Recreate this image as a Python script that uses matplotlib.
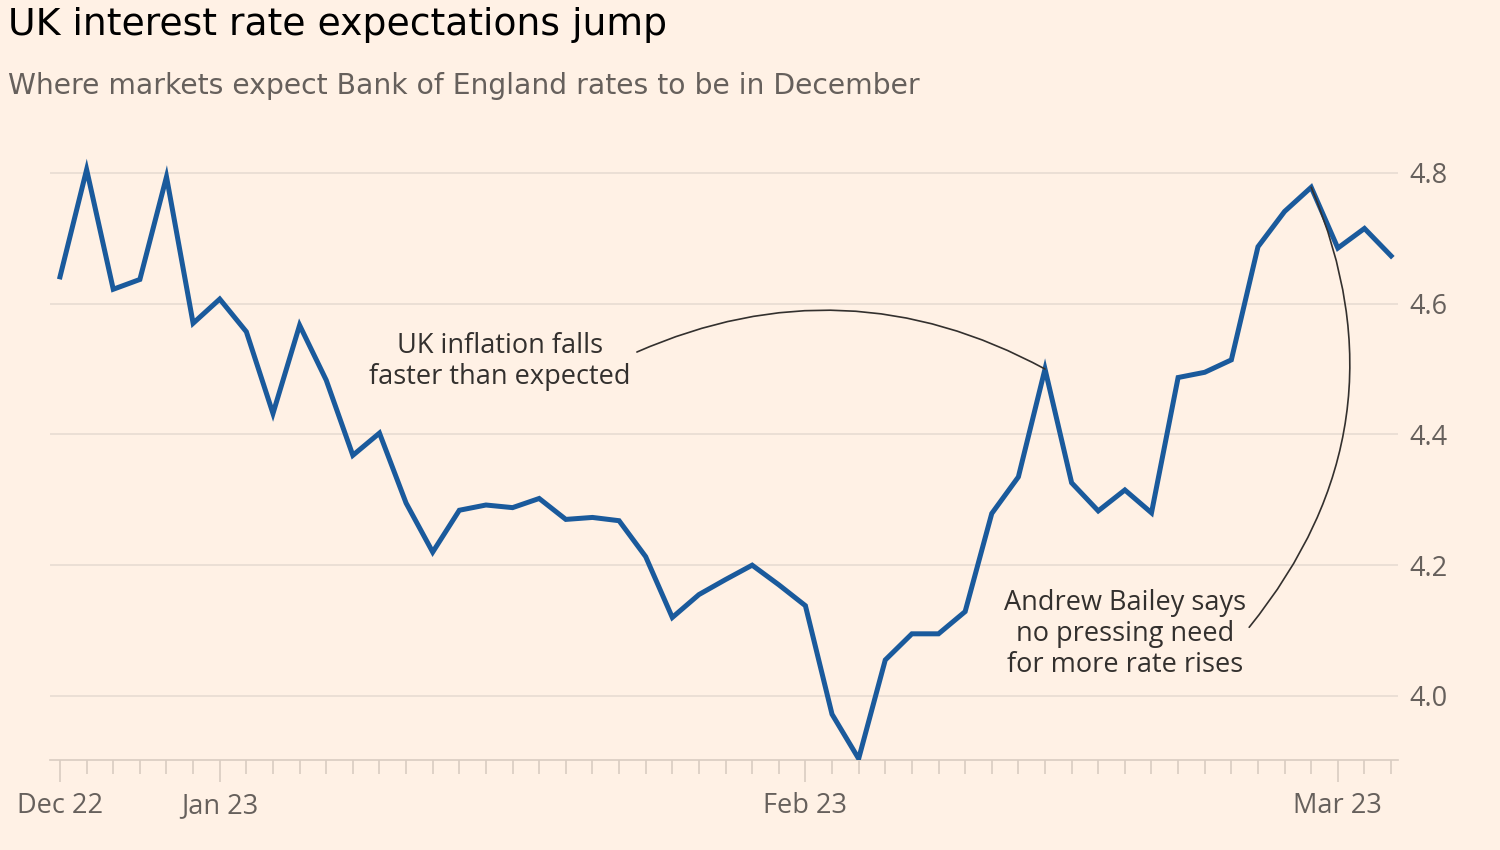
import matplotlib
matplotlib.use("Agg")
import matplotlib.pyplot as plt
from matplotlib import font_manager
import pandas as pd

# ---- data ----
dates = pd.bdate_range("2022-12-23", "2023-03-03")
rates = [4.641, 4.805, 4.622, 4.637, 4.794, 4.570, 4.607, 4.557, 4.432, 4.567,
         4.483, 4.368, 4.402, 4.295, 4.220, 4.284, 4.292, 4.288, 4.302, 4.270,
         4.273, 4.268, 4.213, 4.120, 4.155, 4.178, 4.200, 4.170, 4.138, 3.972,
         3.904, 4.055, 4.095, 4.095, 4.129, 4.279, 4.335, 4.500, 4.326, 4.283,
         4.315, 4.280, 4.487, 4.495, 4.514, 4.687, 4.741, 4.778, 4.685, 4.715,
         4.673]
month_labels = ["Dec 22", "Jan 23", "Feb 23", "Mar 23"]
month_starts = ["2022-12-23", "2023-01-02", "2023-02-01", "2023-03-01"]
y_ticks = [4.0, 4.2, 4.4, 4.6, 4.8]
title = "UK interest rate expectations jump"
subtitle = "Where markets expect Bank of England rates to be in December"
note1 = "UK inflation falls\nfaster than expected"
note2 = "Andrew Bailey says\nno pressing need\nfor more rate rises"

# ---- style ----
avail = {f.name for f in font_manager.fontManager.ttflist}
title_font = "DejaVu Sans"
body_font = "Open Sans" if "Open Sans" in avail else "DejaVu Sans"

BG = "#FFF1E5"
LINE = "#1A5A9C"
GRID = "#E8DCD2"
TICK = "#D9CCC2"
TXT = "#33302E"
GREY = "#66605C"

fig = plt.figure(figsize=(15, 8.5), dpi=100, facecolor=BG)
ax = fig.add_axes([50/1500, 1-760/850, (1398-50)/1500, (760-150)/850])
ax.set_facecolor(BG)

x = list(range(len(rates)))
ax.plot(x, rates, color=LINE, lw=3.6, solid_joinstyle="miter", zorder=3)

ax.set_xlim(-0.376, 50.26)
ax.set_ylim(3.902, 4.835)

# y axis on right
ax.yaxis.tick_right()
ax.set_yticks(y_ticks)
ax.set_yticklabels([f"{v:.1f}" for v in y_ticks], fontsize=19.5, color=GREY, family=body_font)
ax.tick_params(axis="y", length=0, pad=8)
ax.grid(axis="y", color=GRID, lw=1.2)
ax.set_axisbelow(True)

# x axis ticks
pos = {d.strftime("%Y-%m-%d"): i for i, d in enumerate(dates)}
major = [pos[d] for d in month_starts]
ax.set_xticks(major)
ax.set_xticklabels(month_labels, fontsize=19.5, color=GREY, family=body_font)
ax.set_xticks(x, minor=True)
ax.tick_params(axis="x", which="major", length=16, width=1.2, color=TICK, pad=7)
ax.tick_params(axis="x", which="minor", length=10, width=1.2, color=TICK)

for s in ["top", "left", "right"]:
    ax.spines[s].set_visible(False)
ax.spines["bottom"].set_color(TICK)
ax.spines["bottom"].set_linewidth(1.2)

# annotations
ax.text(16.53, 4.512, note1, ha="center", va="center", fontsize=19.5,
        color=TXT, family=body_font, linespacing=1.15, multialignment="center")
ax.annotate("", xy=(37, rates[37]), xytext=(21.67, 4.526),
            arrowprops=dict(arrowstyle="-", color=TXT, lw=1.2,
                            connectionstyle="arc3,rad=-0.245",
                            shrinkA=0, shrinkB=0), zorder=4)

ax.text(40.0, 4.0946, note2, ha="center", va="center", fontsize=19.5,
        color=TXT, family=body_font, linespacing=1.15, multialignment="center")
ax.annotate("", xy=(47, rates[47]), xytext=(44.67, 4.105),
            arrowprops=dict(arrowstyle="-", color=TXT, lw=1.2,
                            connectionstyle="arc3,rad=0.30",
                            shrinkA=0, shrinkB=0), zorder=4)

# titles
fig.text(8/1500, 1-35/850, title, fontsize=27.2, color="#000000",
         family=title_font, va="baseline", ha="left")
fig.text(8/1500, 1-94/850, subtitle, fontsize=20.3, color=GREY,
         family=title_font, va="baseline", ha="left")

fig.savefig("out.png", dpi=100, facecolor=BG)
